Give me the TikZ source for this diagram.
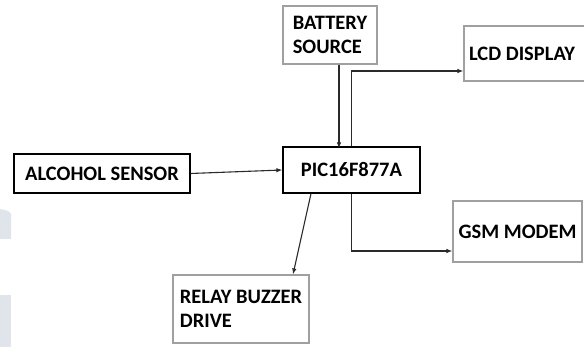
\documentclass[tikz,border=0pt]{standalone}
\usepackage{fontspec}
\setmainfont{Carlito}
\usetikzlibrary{arrows.meta}
\definecolor{wm}{HTML}{DFE5EA}
\definecolor{lightedge}{HTML}{A0A0A0}
\definecolor{lineclr}{HTML}{2A2A2A}
\tikzset{
  blk/.style={draw=black, line width=1.2pt, inner sep=0pt, font=\bfseries\fontsize{20.5}{24.5}\selectfont, text=black},
  gbox/.style={draw=lightedge, line width=1.1pt, inner sep=0pt, align=left, font=\bfseries\fontsize{20.5}{24.5}\selectfont, text=black},
  conn/.style={draw=lineclr, line width=1.1pt, -{Latex[length=6pt,width=4.5pt]}}
}
\begin{document}
\begin{tikzpicture}[x=1pt,y=-1pt]
\useasboundingbox (0,0) rectangle (584,347);
\fill[white] (0,0) rectangle (584,347);
% faint watermark fragments
\fill[wm] (0,209) -- (8,211) -- (11,214) -- (11,239) -- (0,239) -- cycle;
\fill[wm] (0,295) rectangle (11,347);
\begin{scope}
\clip (0,0) rectangle (584,347);
\node[blk, minimum width=176pt, minimum height=39pt] (alc) at (102,173.5) {ALCOHOL SENSOR};
\node[blk, minimum width=137pt, minimum height=46pt] (pic) at (351.5,170) {PIC16F877A};
\node[gbox, minimum width=94pt, minimum height=58pt] (bat) at (330,35) {BATTERY\\SOURCE};
\node[gbox, minimum width=124pt, minimum height=55pt] (lcd) at (526,53.5) {\hspace*{-4pt}LCD DISPLAY\hspace*{4pt}};
\node[gbox, minimum width=129pt, minimum height=61pt] (gsm) at (517.5,231.5) {GSM MODEM};
\node[gbox, minimum width=136pt, minimum height=68pt] (relay) at (241,309) {RELAY BUZZER\\DRIVE};
\end{scope}
\draw[conn] (alc.east) -- (pic.west);
\draw[conn] ([xshift=-12.5pt]pic.north |- bat.south) -- ([xshift=-12.5pt,yshift=-2pt]pic.north);
\draw[conn] (pic.north) |- ([yshift=-17.5pt]lcd.west);
\draw[conn] (pic.south) |- ([yshift=-19.5pt]gsm.west);
\draw[conn] ([xshift=-40.5pt]pic.south) -- ([xshift=52pt]relay.north);
\end{tikzpicture}
\end{document}
